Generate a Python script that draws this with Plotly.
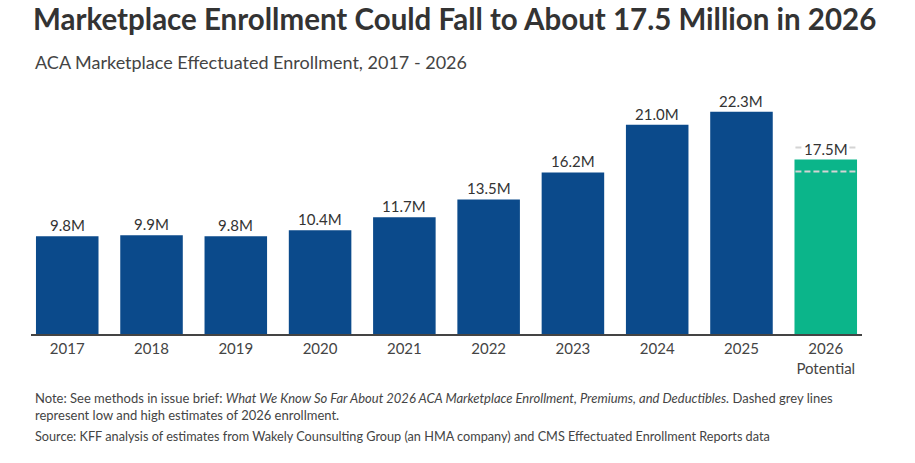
import plotly.graph_objects as go

categories = ["2017", "2018", "2019", "2020", "2021", "2022", "2023", "2024", "2025", "2026<br>Potential"]
enrollment = [9.8, 9.9, 9.8, 10.4, 11.7, 13.5, 16.2, 21.0, 22.3, 17.5]
labels = ["9.8M", "9.9M", "9.8M", "10.4M", "11.7M", "13.5M", "16.2M", "21.0M", "22.3M", "17.5M"]
estimate_low = 16.3
estimate_high = 18.7

BLUE = "#0b4a8b"
GREEN = "#0bb58a"
FONT = "Lato"

colors = [BLUE] * 9 + [GREEN]

W, H = 915, 463
L, R, T, B = 31, 53, 95, 129
ph = H - T - B

def py(p):
    return (H - B - p) / ph

def px(p):
    return (p - L) / (W - L - R)

fig = go.Figure()
fig.add_trace(go.Bar(x=categories, y=enrollment, marker=dict(color=colors, line=dict(width=0)),
                     hoverinfo="skip"))

shapes = []
for v in (estimate_low, estimate_high):
    shapes.append(dict(type="line", xref="x", yref="y", x0=categories[-1], x1=categories[-1],
                       x0shift=-0.36, x1shift=0.36, y0=v, y1=v, layer="above",
                       line=dict(color="#d4d4d4", width=2, dash="6px,3px")))

annotations = []
for i, (v, t) in enumerate(zip(enrollment, labels)):
    annotations.append(dict(x=i, y=v, xref="x", yref="y", text=t, showarrow=False,
                            yanchor="bottom", yshift=1, bgcolor="white", borderpad=0,
                            font=dict(family=FONT, size=15, color="#333333")))

annotations.append(dict(x=px(33), y=py(62), xref="paper", yref="paper", xanchor="left", yanchor="middle",
                        showarrow=False, text="ACA Marketplace Effectuated Enrollment, 2017 - 2026",
                        font=dict(family=FONT, size=18, color="#444444")))
annotations.append(dict(x=px(33), y=py(406), xref="paper", yref="paper", xanchor="left", yanchor="middle",
                        showarrow=False, align="left",
                        text="Note: See methods in issue brief: <i>What We Know So Far About 2026 ACA Marketplace Enrollment, Premiums, and Deductibles.</i> Dashed grey lines<br>represent low and high estimates of 2026 enrollment.",
                        font=dict(family=FONT, size=13, color="#444444")))
annotations.append(dict(x=px(33), y=py(436), xref="paper", yref="paper", xanchor="left", yanchor="middle",
                        showarrow=False, align="left",
                        text="Source: KFF analysis of estimates from Wakely Counsulting Group (an HMA company) and CMS Effectuated Enrollment Reports data",
                        font=dict(family=FONT, size=12.7, color="#444444")))

fig.update_layout(
    width=W, height=H,
    margin=dict(l=L, r=R, t=T, b=B),
    paper_bgcolor="white", plot_bgcolor="white",
    showlegend=False,
    bargap=0.258,
    title=dict(text="<b>Marketplace Enrollment Could Fall to About 17.5 Million in 2026</b>",
               x=33 / W, xanchor="left", xref="container",
               y=1 - 20 / H, yanchor="middle", yref="container",
               font=dict(family=FONT, size=29.5, color="#333333")),
    xaxis=dict(type="category", range=[-0.43, 9.43], showgrid=False, zeroline=False,
               showline=True, linecolor="#444444", linewidth=2, ticks="",
               tickfont=dict(family=FONT, size=15, color="#444444"), fixedrange=True),
    yaxis=dict(range=[0, ph / 9.97], visible=False, showgrid=False, zeroline=False, fixedrange=True),
    shapes=shapes,
    annotations=annotations,
)

fig.write_html("out.html", config={"displayModeBar": False, "staticPlot": True},
               post_script="document.body.style.margin='0';document.body.style.overflow='hidden';")
